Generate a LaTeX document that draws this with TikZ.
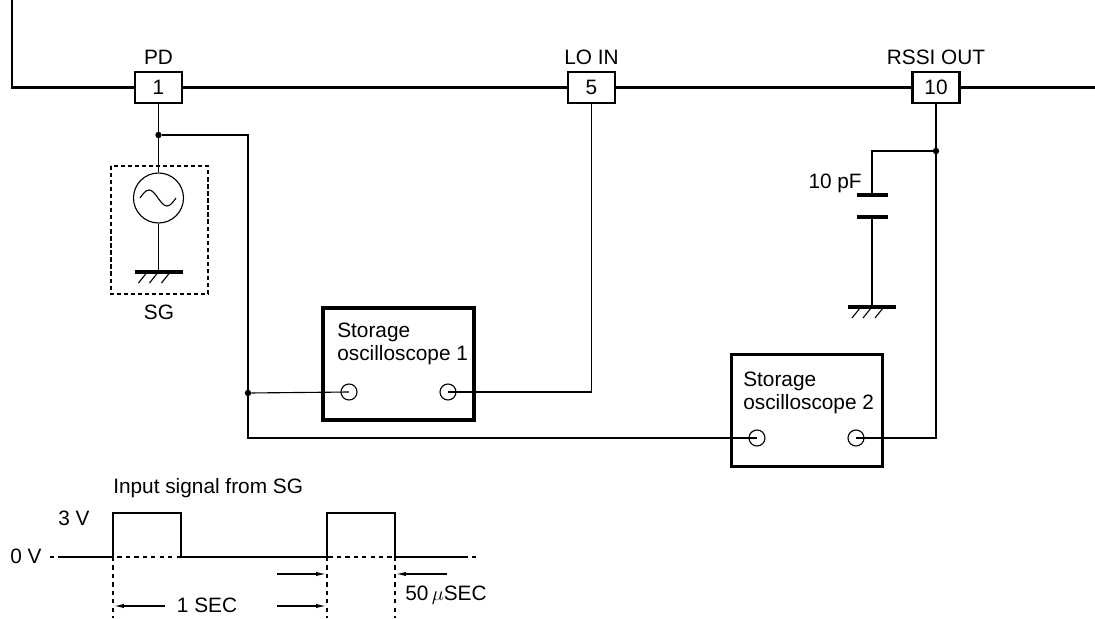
\documentclass[tikz,border=0pt]{standalone}
\usepackage{fontspec}
\setmainfont{Liberation Sans}
\usetikzlibrary{
    arrows.meta, % for the thin arrow tips of the timing part
    positioning  % for the pin labels
}

\begin{document}
\begin{tikzpicture}[
        x=0.025cm,y=-0.025cm,>={Latex[length=7pt,width=3pt]},
        every node/.style = {font=\fontsize{14.8}{16.3}\selectfont},
        bus/.style        = {line width=1.9pt},
        wire/.style       = {line width=0.8pt},
        plate/.style      = {line width=2.2pt},
        pin/.style        = {draw,line width=2pt,fill=white,minimum width=1.175cm,minimum height=0.775cm,inner sep=0pt},
        scopebox/.style   = {draw,line width=2.3pt,minimum width=3.775cm,minimum height=2.8cm,inner sep=0pt},
        jack/.style       = {draw,circle,line width=0.8pt,minimum size=0.4cm,inner sep=0pt},
        dot/.style        = {circle,fill,minimum size=0.16cm,inner sep=0pt},
        pin label/.style  = {label distance=1pt},
        earth/.pic        = {
            \draw[plate] (-24,0) -- (24,0);
            \foreach \dx in {-12,-1,11} \draw[wire] (\dx,1) -- ++(-8,10);
        }
    ]
    \useasboundingbox (0,0) rectangle (1095,618);

    % IC pins on the bus
    \node [pin] (p1)  at (158.5,87.5) [label={[pin label]above:PD}]       {1};
    \node [pin] (p5)  at (591.5,87.5) [label={[pin label]above:LO IN}]    {5};
    \node [pin] (p10) at (936,87.5)   [label={[pin label]above:RSSI OUT}] {10};
    \coordinate (bustop) at (12,0);
    \coordinate (busend) at (1095,87.5);

    \draw[bus] (bustop) |- (p1.west);
    \draw[bus] (p1.east) -- (p5.west);
    \draw[bus] (p5.east) -- (p10.west);
    \draw[bus] (p10.east) -- (busend);

    % signal generator
    \node [dot] (d1) at (158.5,135) {};
    \node [draw,circle,wire,minimum size=1.25cm] (sg) at (158.5,198) {};
    \draw[wire] (140,198) sin (149,190) cos (158,198) sin (167,206) cos (176,198);
    \coordinate (g1) at (158.5,272);
    \pic at (g1) {earth};
    \draw[wire,dash pattern=on 3pt off 2pt] (111,166) rectangle (208,294);
    \node [anchor=base] (sglabel) at (159,319) {SG};

    \draw[wire] (p1.south) -- (d1) -- (sg.north);
    \draw[wire] (sg.south) -- (g1);

    % storage oscilloscopes
    \node [scopebox] (s1) at (398.5,364) {};
    \node [anchor=north west,align=left,inner sep=0pt] (s1text) at (337,323) {Storage\\oscilloscope 1};
    \node [jack] (j1a) at (349,392) {};
    \node [jack] (j1b) at (448,392) {};

    \node [scopebox] (s2) at (807,410.5) {};
    \node [anchor=north west,align=left,inner sep=0pt] (s2text) at (743,372) {Storage\\oscilloscope 2};
    \node [jack] (j2a) at (757,438) {};
    \node [jack] (j2b) at (856,438) {};

    \node [dot] (d2) at (248,393) {};
    \draw[wire] (d1) -| (d2);
    \draw[wire] (d2) |- (j2a.center);
    \draw[wire] (d2) -- (j1a.center);
    \draw[wire] (j1b.center) -| (p5.south);
    \draw[wire] (j2b.center) -| (p10.south);

    % load capacitor on RSSI OUT
    \node [dot] (d3) at (936,151) {};
    \coordinate (ctop) at (872,195);
    \coordinate (cbot) at (872,217);
    \coordinate (g2)   at (872,307);
    \draw[wire] (d3) -| (ctop);
    \draw[plate] (ctop) ++(-15.5,0) -- ++(31,0);
    \draw[plate] (cbot) ++(-15.5,0) -- ++(31,0);
    \draw[wire] (cbot) -- (g2);
    \pic at (g2) {earth};
    \node [anchor=base east,inner sep=0pt] (cval) at (862,188) {10 pF};

    % input signal
    \node [anchor=base west,inner sep=0pt] (intitle) at (113,493) {Input signal from SG};
    \node [anchor=base west,inner sep=0pt] (high) at (58,525) {3 V};
    \node [anchor=base west,inner sep=0pt] (low)  at (10,563) {0 V};
    \draw[wire,dash pattern=on 3pt off 3pt] (50,557) -- (478,557);
    \draw[line width=1.9pt] (62,557) -- (113,557) -- (113,513) -- (181,513) -- (181,557)
        -- (327,557) -- (327,513) -- (395,513) -- (395,557) -- (466,557);
    \foreach \x in {113,327,395}
        \draw[wire,dash pattern=on 3pt off 3pt] (\x,557) -- (\x,618);

    \draw[wire,->] (165,606) -- (114,606);
    \draw[wire,->] (277,606) -- (326,606);
    \node [anchor=base] (period) at (207,612) {1 SEC};
    \draw[wire,->] (277,574) -- (326,574);
    \draw[wire,->] (447,574) -- (396,574);
    \node [anchor=base west,inner sep=0pt] (width) at (405,600) {50\,$\mu$SEC};

\end{tikzpicture}
\end{document}
